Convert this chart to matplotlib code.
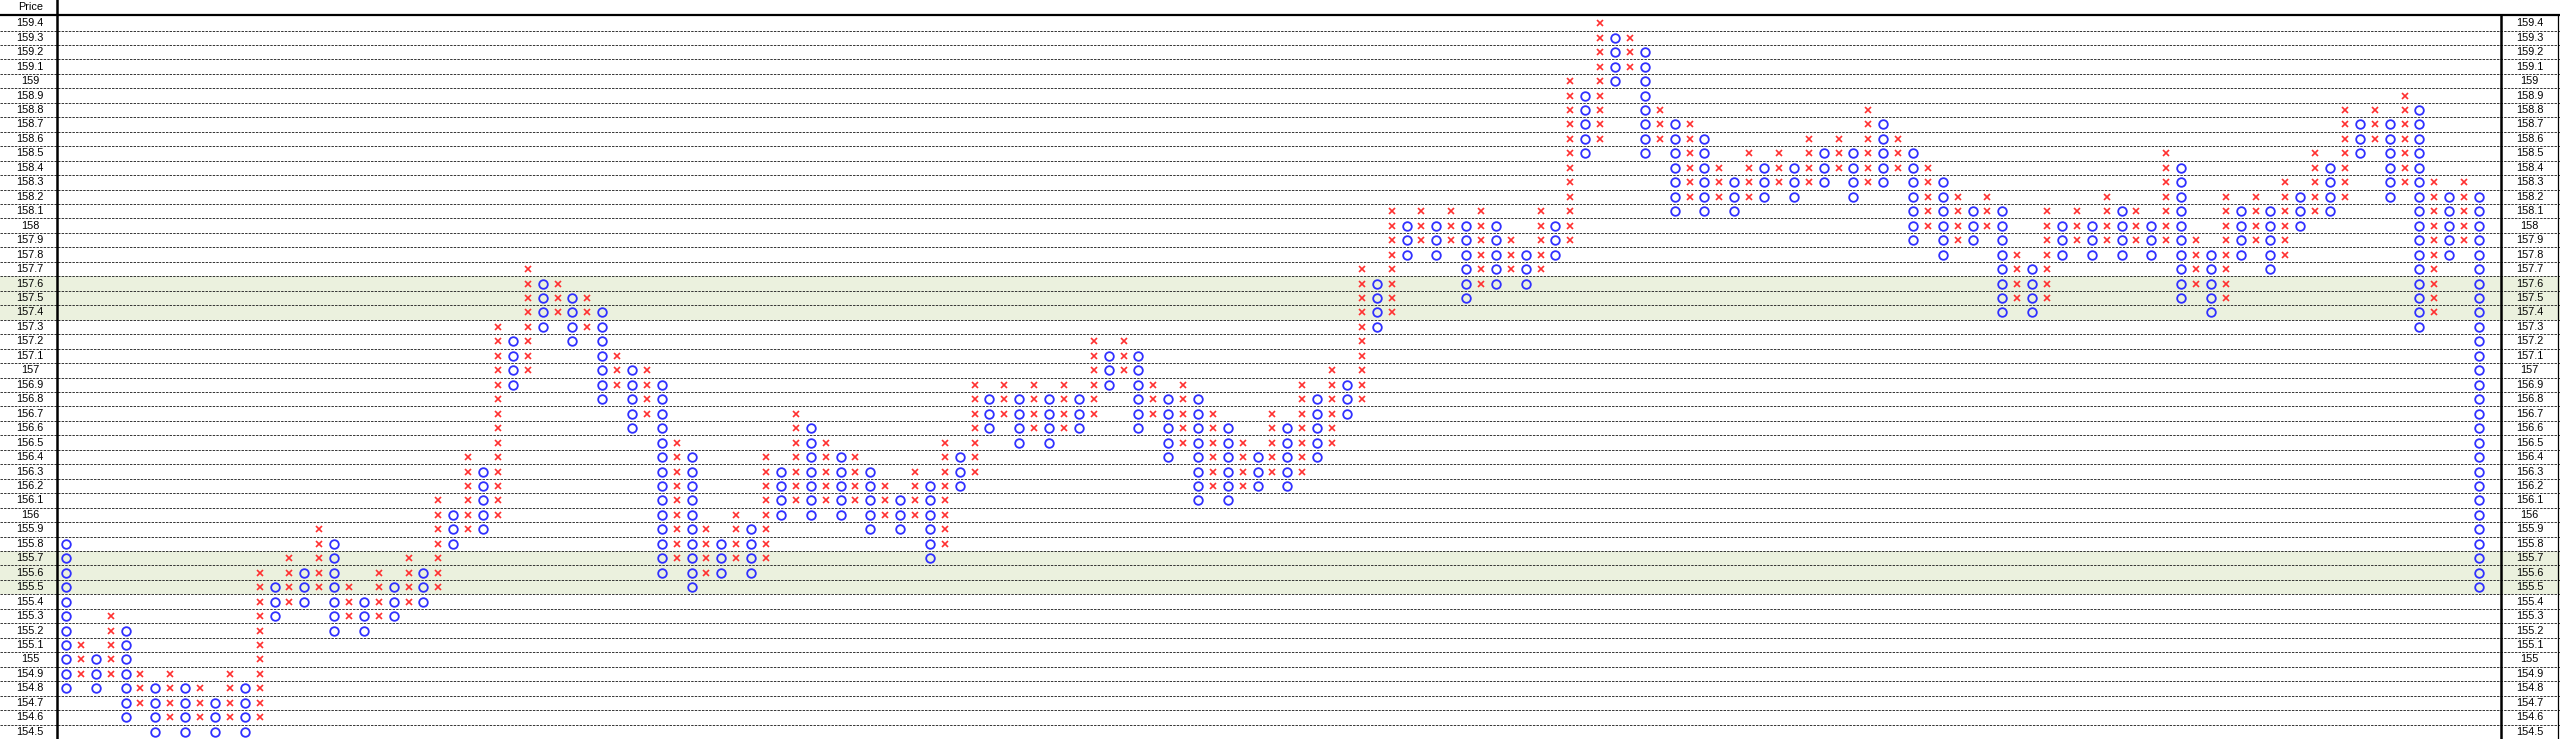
import numpy as np
import matplotlib
matplotlib.use('Agg')
import matplotlib.pyplot as plt

# point & figure columns (first column is O, then they alternate)
first_kind = 'O'
col_low = [154.8, 154.9, 154.8, 154.9, 154.6, 154.7, 154.5, 154.6, 154.5, 154.6,
           154.5, 154.6, 154.5, 154.6, 155.3, 155.4, 155.4, 155.5, 155.2, 155.3,
           155.2, 155.3, 155.3, 155.4, 155.4, 155.5, 155.8, 155.9, 155.9, 156.0,
           156.9, 157.0, 157.3, 157.4, 157.2, 157.3, 156.8, 156.9, 156.6, 156.7,
           155.6, 155.7, 155.5, 155.6, 155.6, 155.7, 155.6, 155.7, 156.0, 156.1,
           156.0, 156.1, 156.0, 156.1, 155.9, 156.0, 155.9, 156.0, 155.7, 155.8,
           156.2, 156.3, 156.6, 156.7, 156.5, 156.6, 156.5, 156.6, 156.6, 156.7,
           156.9, 157.0, 156.6, 156.7, 156.4, 156.5, 156.1, 156.2, 156.1, 156.2,
           156.2, 156.3, 156.2, 156.3, 156.4, 156.5, 156.7, 156.8, 157.3, 157.4,
           157.8, 157.9, 157.8, 157.9, 157.5, 157.6, 157.6, 157.7, 157.6, 157.7,
           157.8, 157.9, 158.5, 158.6, 159.0, 159.1, 158.5, 158.6, 158.1, 158.2,
           158.1, 158.2, 158.1, 158.2, 158.2, 158.3, 158.2, 158.3, 158.3, 158.4,
           158.2, 158.3, 158.3, 158.4, 157.9, 158.0, 157.8, 157.9, 157.9, 158.0,
           157.4, 157.5, 157.4, 157.5, 157.8, 157.9, 157.8, 157.9, 157.8, 157.9,
           157.8, 157.9, 157.5, 157.6, 157.4, 157.5, 157.8, 157.9, 157.7, 157.8,
           158.0, 158.1, 158.1, 158.2, 158.5, 158.6, 158.2, 158.3, 157.3, 157.4,
           157.8, 157.9, 155.5]
col_high = [155.8, 155.1, 155.0, 155.3, 155.2, 154.9, 154.8, 154.9, 154.8, 154.8,
            154.7, 154.9, 154.8, 155.6, 155.5, 155.7, 155.6, 155.9, 155.8, 155.5,
            155.4, 155.6, 155.5, 155.7, 155.6, 156.1, 156.0, 156.4, 156.3, 157.3,
            157.2, 157.7, 157.6, 157.6, 157.5, 157.5, 157.4, 157.1, 157.0, 157.0,
            156.9, 156.5, 156.4, 155.9, 155.8, 156.0, 155.9, 156.4, 156.3, 156.7,
            156.6, 156.5, 156.4, 156.4, 156.3, 156.2, 156.1, 156.3, 156.2, 156.5,
            156.4, 156.9, 156.8, 156.9, 156.8, 156.9, 156.8, 156.9, 156.8, 157.2,
            157.1, 157.2, 157.1, 156.9, 156.8, 156.9, 156.8, 156.7, 156.6, 156.5,
            156.4, 156.7, 156.6, 156.9, 156.8, 157.0, 156.9, 157.7, 157.6, 158.1,
            158.0, 158.1, 158.0, 158.1, 158.0, 158.1, 158.0, 157.9, 157.8, 158.1,
            158.0, 159.0, 158.9, 159.4, 159.3, 159.3, 159.2, 158.8, 158.7, 158.7,
            158.6, 158.4, 158.3, 158.5, 158.4, 158.5, 158.4, 158.6, 158.5, 158.6,
            158.5, 158.8, 158.7, 158.6, 158.5, 158.4, 158.3, 158.2, 158.1, 158.2,
            158.1, 157.8, 157.7, 158.1, 158.0, 158.1, 158.0, 158.2, 158.1, 158.1,
            158.0, 158.5, 158.4, 157.9, 157.8, 158.2, 158.1, 158.2, 158.1, 158.3,
            158.2, 158.5, 158.4, 158.8, 158.7, 158.8, 158.7, 158.9, 158.8, 158.3,
            158.2, 158.3, 158.2]

price_top = 159.4
price_bottom = 154.5
box = 0.1
bands = [(157.4, 157.6), (155.5, 155.7)]

#colors
red = '#ff3030'
blue = '#3030ff'
band_col = '#ebf1de'

fig = plt.figure(figsize=(25.6, 7.39), dpi=100)
ax = fig.add_axes([0, 0, 1, 1])
ax.axis('off')

# column 0 sits at pixel 66, 14.895 px per column; 144.6 px per price unit
ax.set_xlim(-66/14.895, (2560-66)/14.895)
ax.set_ylim(154.45, 159.561)

x_left = -0.604
x_right = 163.48
x_edge = 167.3

#shaded rows
for lo, hi in bands:
    ax.axhspan(lo - box/2, hi + box/2, color=band_col, lw=0, zorder=0)

#row grid
rows = np.round(np.arange(price_bottom, price_top + box/2, box), 1)
for p in rows[:-1]:
    ax.axhline(p + box/2, color='#333333', lw=0.7, ls=(0, (2.5, 1.2)), zorder=1)

#frame lines
ax.axhline(159.457, color='black', lw=1.6, zorder=3)
ax.plot([x_left, x_left], [154.45, 159.561], color='black', lw=1.8, zorder=3)
ax.plot([x_right, x_right], [154.45, 159.457], color='black', lw=1.8, zorder=3)
ax.plot([x_edge, x_edge], [154.45, 159.457], color='black', lw=0.9, zorder=3)

#price labels both sides
fs = 7.8
for p in rows:
    lab = f'{p:g}'
    ax.text(-2.4, p, lab, ha='center', va='center', fontsize=fs, family='Liberation Sans')
    ax.text(165.4, p, lab, ha='center', va='center', fontsize=fs, family='Liberation Sans')
ax.text(-2.4, 159.51, 'Price', ha='center', va='center', fontsize=fs, family='Liberation Sans')

#boxes
xs_x, ys_x, xs_o, ys_o = [], [], [], []
kind = first_kind
for i in range(len(col_low)):
    n = int(round((col_high[i] - col_low[i]) / box)) + 1
    ps = col_low[i] + box * np.arange(n)
    if kind == 'X':
        xs_x += [i] * n
        ys_x += list(ps)
        kind = 'O'
    else:
        xs_o += [i] * n
        ys_o += list(ps)
        kind = 'X'

ax.plot(xs_x, ys_x, 'x', color=red, ms=4.2, mew=1.2, ls='none', zorder=4)
ax.plot(xs_o, ys_o, 'o', mfc='none', mec=blue, ms=6.2, mew=1.3, ls='none', zorder=4)

fig.savefig('out.png', dpi=100)
